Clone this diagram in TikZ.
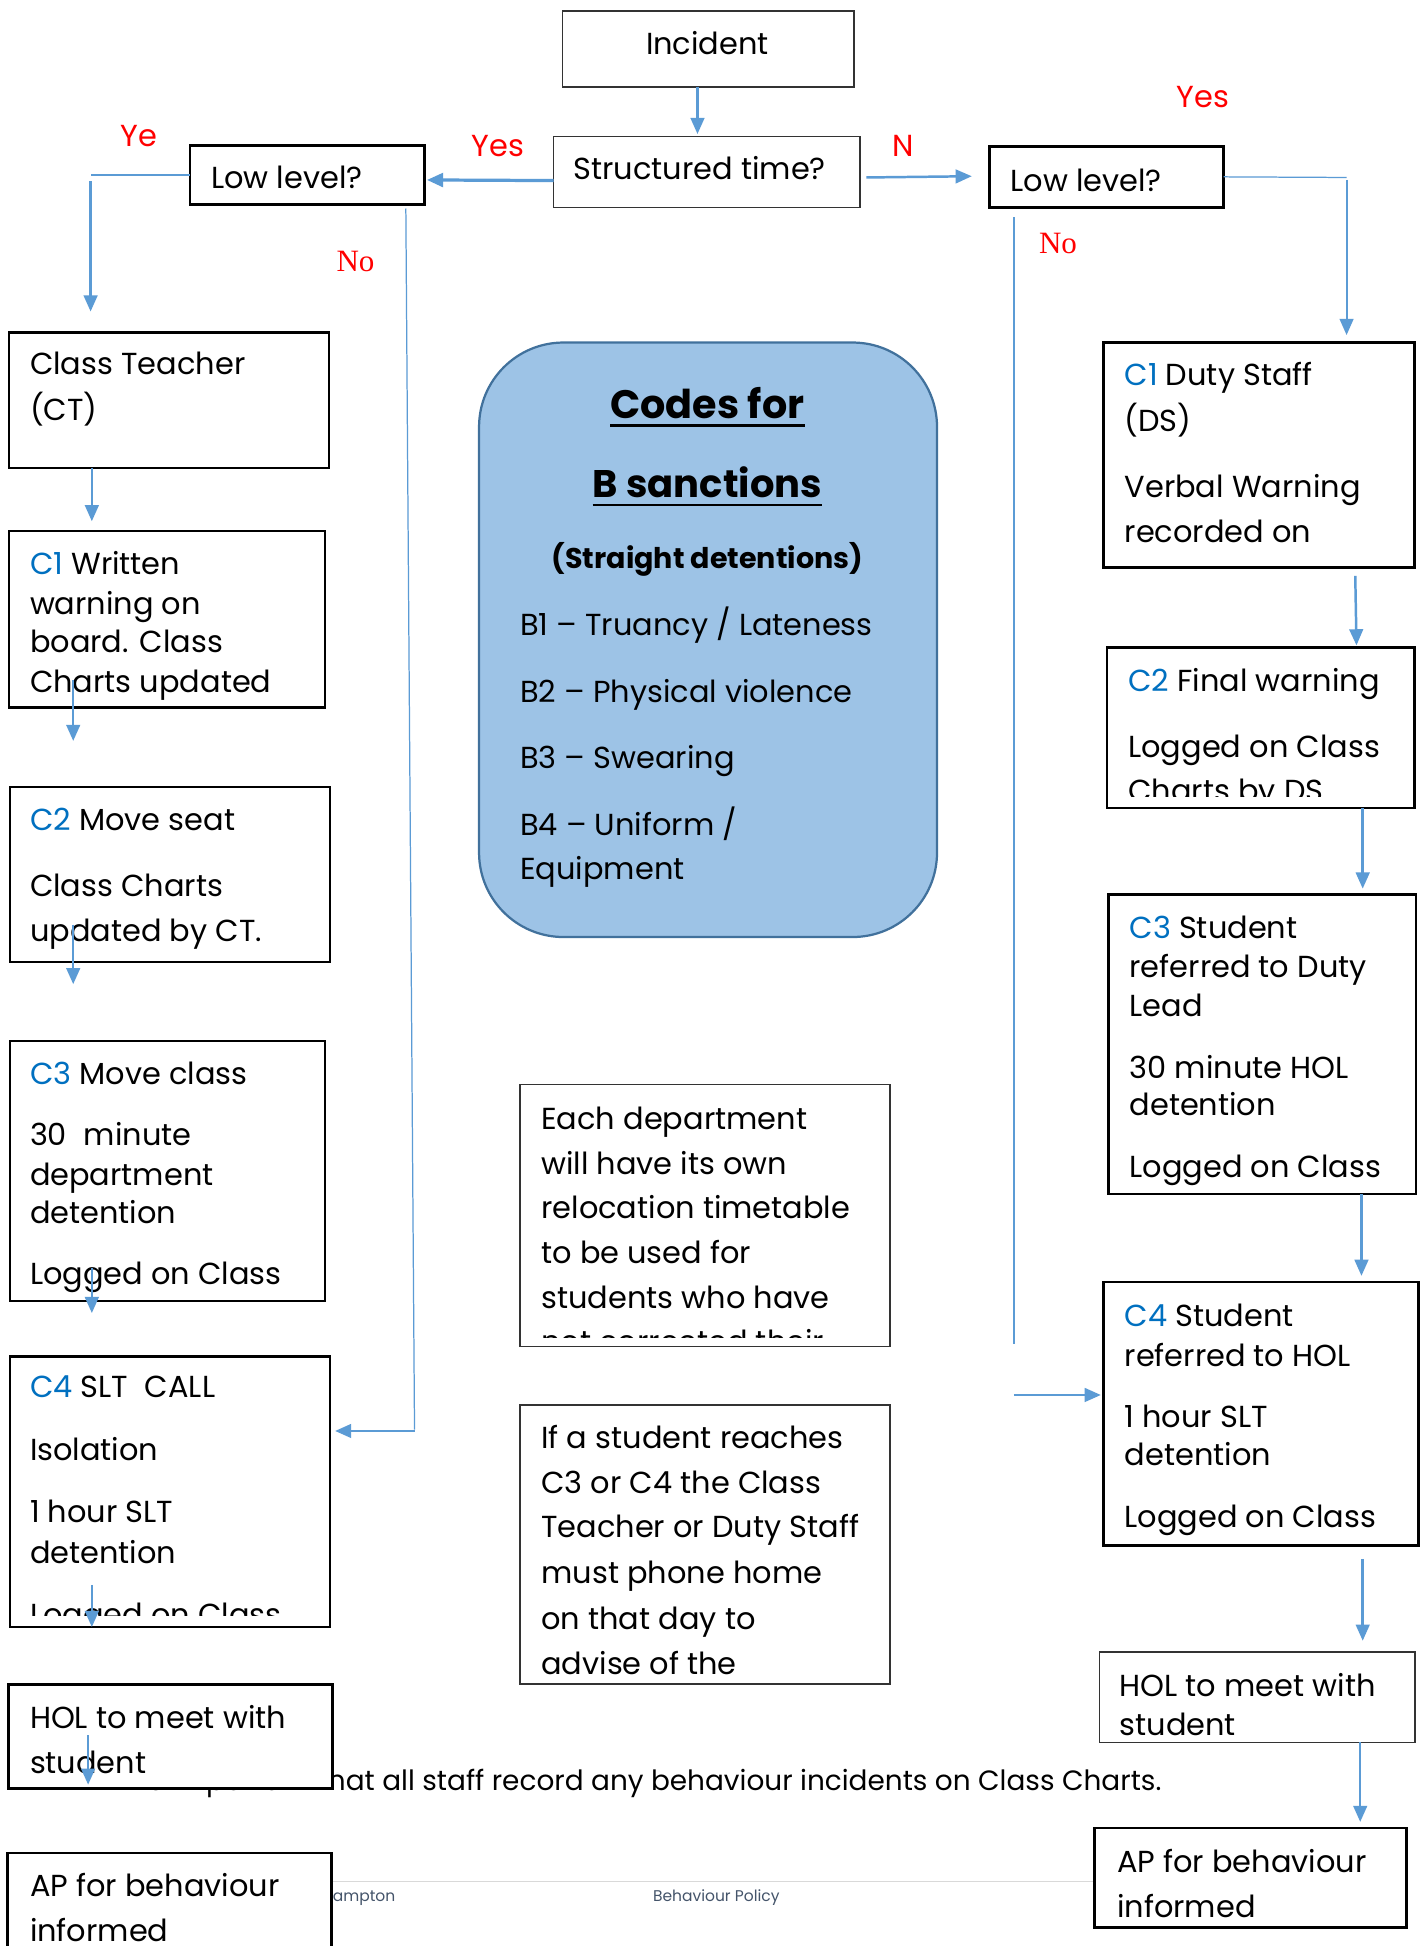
\documentclass[tikz,border=0pt]{standalone}
\usepackage{fontspec}
\setmainfont{Poppins}
\newfontfamily\serifno{Liberation Serif}
\usetikzlibrary{arrows.meta}
\definecolor{arrblue}{HTML}{5B9BD5}
\definecolor{codeblue}{HTML}{0070C0}
\definecolor{codesfill}{HTML}{9DC3E6}
\definecolor{codesedge}{HTML}{41719C}
\definecolor{footc}{HTML}{44546A}
\definecolor{footline}{HTML}{D9D9D9}
\newcommand{\cc}[1]{\textcolor{codeblue}{#1}}
\newcommand{\boxlines}[3]{\foreach \ty/\tx [count=\ti] in {#3} {\node[txt] (#1-\ti) at (#2,\ty) {\tx};}}
\tikzset{
  box/.style={draw=black, fill=white, line width=1.8pt, inner sep=0pt, outer sep=0pt, anchor=north west},
  thinbox/.style={box, line width=1.1pt, draw=black!80},
  txt/.style={anchor=base west, inner sep=0pt, font=\fontsize{24.5}{30}\selectfont},
  lbl/.style={anchor=base west, inner sep=0pt, text=red, font=\fontsize{24.5}{30}\selectfont},
  nolbl/.style={anchor=base west, inner sep=0pt, text=red, font=\serifno\fontsize{25}{30}\selectfont},
  foottxt/.style={anchor=base west, inner sep=0pt, text=footc, font=\fontsize{12.5}{15}\selectfont},
  arr/.style={draw=arrblue, line width=2pt, -{Triangle[width=11pt,length=13pt]}},
  thinline/.style={draw=arrblue, line width=1pt},
}
\begin{document}
\begin{tikzpicture}[x=1pt,y=-1pt]
\clip (0,0) rectangle (1148,1568);
\fill[white] (0,0) rectangle (1148,1568);

% page footer behind
\draw[footline, line width=1.5pt] (200,1516) -- (960,1516);
\node[foottxt] (fa) at (268,1532) {ampton};
\node[foottxt] (fb) at (526,1532) {Behaviour Policy};
\node[anchor=base east, inner sep=0pt, font=\fontsize{22.5}{28}\selectfont] (imp) at (936,1443) {It is important that all staff record any behaviour incidents on Class Charts.};

% top boxes
\node[thinbox, minimum width=235pt, minimum height=61pt] (inc) at (453,9) {};
\node[txt, anchor=base] (inc-t) at (570,44) {Incident};
\node[thinbox, minimum width=247pt, minimum height=57pt] (str) at (446,110) {};
\node[txt] (str-t) at (462,145) {Structured time?};
\node[box, line width=2.2pt, minimum width=189pt, minimum height=48pt] (lowL) at (153,117) {};
\node[txt] (lowL-t) at (170,152) {Low level?};
\node[box, line width=2.2pt, minimum width=189pt, minimum height=49pt] (lowR) at (797,118) {};
\node[txt] (lowR-t) at (814,154) {Low level?};

% labels
\node[lbl] (l-ye) at (97,118) {Ye};
\node[lbl] (l-yes) at (380,126) {Yes};
\node[lbl] (l-n) at (719,126) {N};
\node[lbl] (l-yesr) at (948,87) {Yes};
\node[nolbl] (l-nol) at (271,219) {No};
\node[nolbl] (l-nor) at (837,204) {No};

% left column
\node[box, minimum width=258pt, minimum height=109pt] (ct) at (7,268) {};
\boxlines{ct}{24}{302/{Class Teacher}, 339/{(CT)}}
\node[box, minimum width=255pt, minimum height=142pt] (c1L) at (7,428) {};
\boxlines{c1L}{24}{463/{\cc{C1} Written}, 495/{warning on}, 526/{board. Class}, 558/{Charts updated}}
\node[box, minimum width=258pt, minimum height=141pt] (c2L) at (8,634) {};
\boxlines{c2L}{24}{669/{\cc{C2} Move seat}, 722/{Class Charts}, 759/{updated by CT.}}
\node[box, minimum width=254pt, minimum height=209pt] (c3L) at (8,839) {};
\boxlines{c3L}{24}{874/{\cc{C3} Move class}, 923/{30\hspace{0.55em}minute}, 955/{department}, 986/{detention}, 1035/{Logged on Class}}
\node[box, line width=2.2pt, minimum width=258pt, minimum height=218pt] (c4L) at (8,1093) {};
\begin{scope}
\clip (10,1095) rectangle (264,1302);
\boxlines{c4L}{24}{1126/{\cc{C4} SLT\hspace{0.55em}CALL}, 1177/{Isolation}, 1227/{1 hour SLT}, 1260/{detention}, 1310/{Logged on Class}}
\end{scope}
\node[box, line width=2.2pt, minimum width=261pt, minimum height=84pt] (holL) at (7,1357) {};
\boxlines{holL}{24}{1393/{HOL to meet with}, 1429/{student}}
\node[box, line width=2.2pt, minimum width=261pt, minimum height=130pt] (apL) at (6,1493) {};
\boxlines{apL}{24}{1528/{AP for behaviour}, 1564/{informed}}

% centre
\node[draw=codesedge, fill=codesfill, line width=1.8pt, rounded corners=68pt, inner sep=0pt, outer sep=0pt, anchor=north west, minimum width=369pt, minimum height=479pt] (codes) at (386,276) {};
\node[anchor=base, inner sep=0pt, font=\bfseries\fontsize{32}{36}\selectfont] (cf) at (570,337) {Codes for};
\node[anchor=base, inner sep=0pt, font=\bfseries\fontsize{31}{36}\selectfont] (bs) at (570,401) {B sanctions};
\draw[line width=2pt] ([yshift=-6pt]cf.base west) -- ([yshift=-6pt]cf.base east);
\draw[line width=2pt] ([yshift=-6pt]bs.base west) -- ([yshift=-6pt]bs.base east);
\node[anchor=base, inner sep=0pt, font=\bfseries\fontsize{23}{28}\selectfont] (sd) at (570,458) {(Straight detentions)};
\boxlines{codes}{419}{512/{B1 – Truancy / Lateness}, 566/{B2 – Physical violence}, 619/{B3 – Swearing}, 673/{B4 – Uniform /}, 709/{Equipment}}

\node[thinbox, minimum width=298pt, minimum height=211pt] (dept) at (419,874) {};
\begin{scope}
\clip (421,876) rectangle (715,1078);
\boxlines{dept}{436}{910/{Each department}, 946/{will have its own}, 982/{relocation timetable}, 1018/{to be used for}, 1054/{students who have}, 1090/{not corrected their}}
\end{scope}
\node[thinbox, minimum width=298pt, minimum height=225pt] (ifst) at (419,1132) {};
\boxlines{ifst}{436}{1167/{If a student reaches}, 1203/{C3 or C4 the Class}, 1239/{Teacher or Duty Staff}, 1276/{must phone home}, 1313/{on that day to}, 1349/{advise of the}}

% right column
\node[box, line width=2.2pt, minimum width=251pt, minimum height=181pt] (c1R) at (889,276) {};
\boxlines{c1R}{906}{311/{\cc{C1} Duty Staff}, 348/{(DS)}, 401/{Verbal Warning}, 437/{recorded on}}
\node[box, line width=2.2pt, minimum width=248pt, minimum height=129pt] (c2R) at (892,522) {};
\begin{scope}
\clip (894,524) rectangle (1138,642);
\boxlines{c2R}{909}{557/{\cc{C2} Final warning}, 610/{Logged on Class}, 646/{Charts by DS}}
\end{scope}
\node[box, line width=2.2pt, minimum width=248pt, minimum height=241pt] (c3R) at (893,721) {};
\boxlines{c3R}{910}{756/{\cc{C3} Student}, 788/{referred to Duty}, 819/{Lead}, 869/{30 minute HOL}, 899/{detention}, 949/{Logged on Class}}
\node[box, line width=2.2pt, minimum width=254pt, minimum height=212pt] (c4R) at (889,1033) {};
\boxlines{c4R}{906}{1069/{\cc{C4} Student}, 1101/{referred to HOL}, 1150/{1 hour SLT}, 1181/{detention}, 1231/{Logged on Class}}
\node[thinbox, line width=1.4pt, minimum width=254pt, minimum height=73pt] (holR) at (886,1331) {};
\begin{scope}
\clip (888,1333) rectangle (1138,1399);
\boxlines{holR}{902}{1367/{HOL to meet with}, 1398/{student}}
\end{scope}
\node[box, line width=2.2pt, minimum width=251pt, minimum height=80pt] (apR) at (882,1473) {};
\boxlines{apR}{900}{1509/{AP for behaviour}, 1545/{informed}}

% connectors
\draw[arr] ([xshift=109pt]inc.south west) -- ([xshift=116pt,yshift=2pt]str.north west);
\draw[arr, line width=2.6pt] ([yshift=-7pt]str.west) -- ([xshift=2pt,yshift=-4pt]lowL.east);
\draw[arr] ([xshift=5pt,yshift=-4.5pt]str.east) -- ([xshift=-14pt,yshift=0.5pt]lowR.west);
\coordinate (yeC) at (73,141);
\draw[thinline] (lowL.west) -- (yeC);
\draw[arr] ([yshift=-5pt]yeC) -- ([xshift=66pt,yshift=17pt]ct.north west);
\coordinate (noL) at (334,1152);
\draw[thinline] ([xshift=174pt,yshift=-3pt]lowL.south west) -- (noL);
\draw[arr] ([yshift=-1pt]noL) -- ([xshift=4pt,yshift=49pt]c4L.east);
\coordinate (yesR) at (1085,143);
\draw[thinline] (lowR.east) -- (yesR);
\draw[arr, line width=1.6pt] ([yshift=-2pt]yesR) -- ([xshift=196pt,yshift=6pt]c1R.north west);
\coordinate (noR) at (817,1083);
\coordinate (noR2) at (817,1124);
\draw[thinline] ([xshift=20pt,yshift=-8pt]lowR.south west) -- (noR);
\draw[arr] (noR2) -- ([xshift=-2pt,yshift=15pt]c4R.west);

\draw[arr] ([xshift=67pt]ct.south west) -- ([xshift=67pt,yshift=8pt]c1L.north west);
\draw[arr] ([xshift=52pt,yshift=22pt]c1L.south west) -- ([xshift=51pt,yshift=37pt]c2L.north west);
\draw[arr] ([xshift=51pt,yshift=30pt]c2L.south west) -- ([xshift=51pt,yshift=46pt]c3L.north west);
\draw[arr] ([xshift=66pt,yshift=26pt]c3L.south west) -- ([xshift=66pt,yshift=-10pt]c3L.south west);
\draw[arr] ([xshift=66pt,yshift=34pt]c4L.south west) -- ([xshift=66pt]c4L.south west);
\draw[arr] ([xshift=64pt,yshift=43pt]holL.south west) -- ([xshift=64pt,yshift=3pt]holL.south west);

\draw[arr] ([xshift=203pt,yshift=-7pt]c1R.south west) -- ([xshift=201pt,yshift=2pt]c2R.north west);
\draw[arr] ([xshift=206pt]c2R.south west) -- ([xshift=205pt,yshift=5pt]c3R.north west);
\draw[arr] ([xshift=204pt]c3R.south west) -- ([xshift=208pt,yshift=5pt]c4R.north west);
\draw[arr] ([xshift=209pt,yshift=-11pt]c4R.south west) -- ([xshift=212pt,yshift=9pt]holR.north west);
\draw[arr] ([xshift=210pt]holR.south west) -- ([xshift=214pt,yshift=5pt]apR.north west);
\end{tikzpicture}
\end{document}
